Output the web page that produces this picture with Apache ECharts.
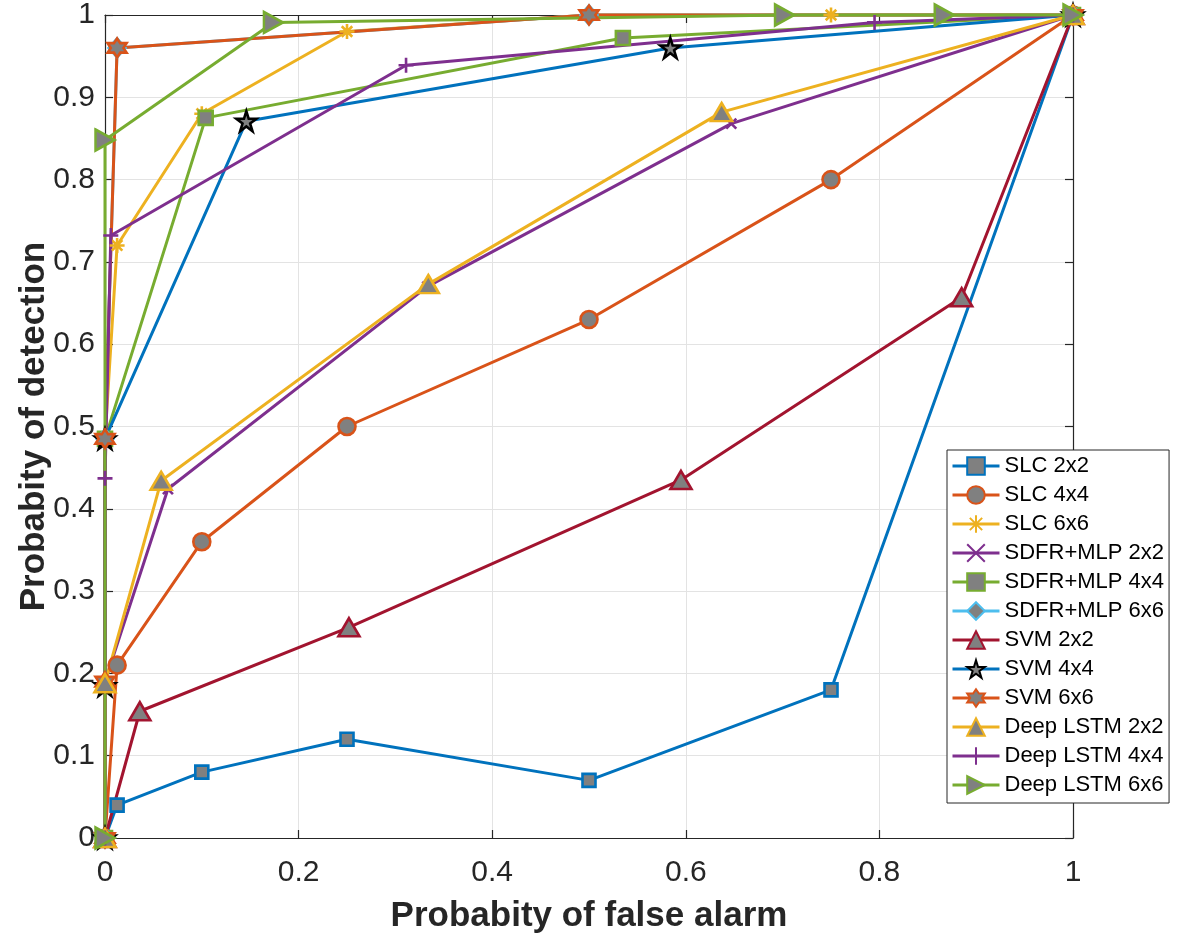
<!DOCTYPE html>
<html>
<head>
<meta charset="utf-8">
<script src="https://cdn.jsdelivr.net/npm/echarts@6/dist/echarts.min.js"></script>
<style>
  html, body { margin: 0; padding: 0; background: #ffffff; }
  #chart { width: 1180px; height: 937px; }
</style>
</head>
<body>
<div id="chart"></div>
<script>
// ---- tick labels ----
const xTickLabels = ['0', '0.2', '0.4', '0.6', '0.8', '1'];
const yTickLabels = ['0', '0.1', '0.2', '0.3', '0.4', '0.5', '0.6', '0.7', '0.8', '0.9', '1'];

// ---- series names (legend order) ----
const seriesNames = [
  'SLC 2x2', 'SLC 4x4', 'SLC 6x6',
  'SDFR+MLP 2x2', 'SDFR+MLP 4x4', 'SDFR+MLP 6x6',
  'SVM 2x2', 'SVM 4x4', 'SVM 6x6',
  'Deep LSTM 2x2', 'Deep LSTM 4x4', 'Deep LSTM 6x6'
];

// ---- ROC points: probability of false alarm / probability of detection ----
const slc2x2Pfa = [0, 0.0125, 0.1, 0.25, 0.5, 0.75, 1];
const slc2x2Pd  = [0, 0.04, 0.08, 0.12, 0.07, 0.18, 1];

const slc4x4Pfa = [0, 0.0125, 0.1, 0.25, 0.5, 0.75, 1];
const slc4x4Pd  = [0, 0.21, 0.36, 0.5, 0.63, 0.8, 1];

const slc6x6Pfa = [0, 0, 0.0125, 0.1, 0.25, 0.5, 0.75, 1];
const slc6x6Pd  = [0, 0.485, 0.72, 0.88, 0.98, 1, 1, 1];

const sdfr2x2Pfa = [0, 0, 0.065, 0.333, 0.647, 1];
const sdfr2x2Pd  = [0, 0.19, 0.424, 0.67, 0.868, 1];

const sdfr4x4Pfa = [0, 0, 0.104, 0.535, 1];
const sdfr4x4Pd  = [0, 0.485, 0.875, 0.972, 1];

const sdfr6x6Pfa = [0, 0, 0.0125, 0.5, 1];
const sdfr6x6Pd  = [0, 0.485, 0.96, 1, 1];

const svm2x2Pfa = [0, 0.036, 0.252, 0.595, 0.885, 1];
const svm2x2Pd  = [0, 0.154, 0.256, 0.435, 0.657, 1];

const svm4x4Pfa = [0, 0, 0, 0.146, 0.584, 1];
const svm4x4Pd  = [0, 0.185, 0.485, 0.871, 0.96, 1];

const svm6x6Pfa = [0, 0, 0, 0.0125, 0.5, 1];
const svm6x6Pd  = [0, 0.19, 0.485, 0.96, 1, 1];

const lstm2x2Pfa = [0, 0, 0.058, 0.334, 0.637, 1];
const lstm2x2Pd  = [0, 0.188, 0.434, 0.673, 0.882, 1];

const lstm4x4Pfa = [0, 0, 0.006, 0.311, 0.795, 1];
const lstm4x4Pd  = [0, 0.437, 0.732, 0.939, 0.991, 1];

const lstm6x6Pfa = [0, 0, 0.174, 0.702, 0.867, 1];
const lstm6x6Pd  = [0, 0.848, 0.991, 1, 1, 1];

const seriesPfa = [slc2x2Pfa, slc4x4Pfa, slc6x6Pfa, sdfr2x2Pfa, sdfr4x4Pfa, sdfr6x6Pfa,
                   svm2x2Pfa, svm4x4Pfa, svm6x6Pfa, lstm2x2Pfa, lstm4x4Pfa, lstm6x6Pfa];
const seriesPd  = [slc2x2Pd, slc4x4Pd, slc6x6Pd, sdfr2x2Pd, sdfr4x4Pd, sdfr6x6Pd,
                   svm2x2Pd, svm4x4Pd, svm6x6Pd, lstm2x2Pd, lstm4x4Pd, lstm6x6Pd];

// ---- marker shapes ----
function starPath(points, inner) {
  let d = '';
  for (let i = 0; i < points * 2; i++) {
    const r = i % 2 === 0 ? 1 : inner;
    const a = -Math.PI / 2 + i * Math.PI / points;
    d += (i === 0 ? 'M' : 'L') + (r * Math.cos(a)).toFixed(4) + ',' + (r * Math.sin(a)).toFixed(4);
  }
  return 'path://' + d + 'Z';
}
const SYM_ASTERISK = 'path://M0,-1L0,1M-1,0L1,0M-0.7,-0.7L0.7,0.7M-0.7,0.7L0.7,-0.7';
const SYM_CROSS = 'path://M-1,-1L1,1M-1,1L1,-1';
const SYM_PLUS = 'path://M0,-1L0,1M-1,0L1,0';
const SYM_RIGHT_TRI = 'path://M-1,-1L1,0L-1,1Z';
const SYM_PENTAGRAM = starPath(5, 0.382);
const SYM_HEXAGRAM = starPath(6, 0.577);

const GRAY = '#808080';
// line colour, marker, marker size, marker edge colour, marker face colour
const styles = [
  { color: '#0072BD', symbol: 'rect',        size: 13,       edge: '#0072BD', face: GRAY },
  { color: '#D95319', symbol: 'circle',      size: 17,       edge: '#D95319', face: GRAY },
  { color: '#EDB120', symbol: SYM_ASTERISK,  size: 15,       edge: '#EDB120', face: 'none' },
  { color: '#7E2F8E', symbol: SYM_CROSS,     size: 10,       edge: '#7E2F8E', face: 'none' },
  { color: '#77AC30', symbol: 'rect',        size: 14,       edge: '#77AC30', face: GRAY },
  { color: '#4DBEEE', symbol: 'diamond',     size: [17, 19], edge: '#4DBEEE', face: GRAY },
  { color: '#A2142F', symbol: 'triangle',    size: [21, 18], edge: '#A2142F', face: GRAY },
  { color: '#0072BD', symbol: SYM_PENTAGRAM, size: 20,       edge: '#000000', face: GRAY },
  { color: '#D95319', symbol: SYM_HEXAGRAM,  size: 19,       edge: '#D95319', face: GRAY },
  { color: '#EDB120', symbol: 'triangle',    size: [21, 18], edge: '#EDB120', face: GRAY },
  { color: '#7E2F8E', symbol: SYM_PLUS,      size: 15,       edge: '#7E2F8E', face: 'none' },
  { color: '#77AC30', symbol: SYM_RIGHT_TRI, size: [19, 21], edge: '#77AC30', face: GRAY }
];

const FONT = '"Liberation Sans", Arial, Helvetica, sans-serif';
const AXIS_COLOR = '#262626';

const series = seriesNames.map((name, i) => {
  const s = styles[i];
  return {
    name: name,
    type: 'line',
    xAxisIndex: 0,
    yAxisIndex: 0,
    data: seriesPfa[i].map((x, k) => [x, seriesPd[i][k]]),
    symbol: s.symbol,
    symbolSize: s.size,
    showAllSymbol: true,
    clip: false,
    animation: false,
    lineStyle: { color: s.color, width: 3 },
    itemStyle: {
      color: s.face === 'none' ? 'rgba(0,0,0,0)' : s.face,
      borderColor: s.edge,
      borderWidth: 2.6
    },
    emphasis: { disabled: true }
  };
});

function axisCommon(labels, interval) {
  return {
    type: 'value',
    min: 0,
    max: 1,
    interval: interval,
    axisLine: { show: true, onZero: false, lineStyle: { color: AXIS_COLOR, width: 1.2 } },
    axisTick: { show: true, inside: true, length: 8, lineStyle: { color: AXIS_COLOR, width: 1.2 } },
    splitLine: { show: false },
    axisLabel: {
      show: true,
      fontFamily: FONT,
      fontSize: 30,
      color: AXIS_COLOR,
      formatter: v => labels[Math.round(v / interval)]
    }
  };
}

const xMain = axisCommon(xTickLabels, 0.2);
xMain.position = 'bottom';
xMain.splitLine = { show: true, lineStyle: { color: '#e3e3e3', width: 1 } };
xMain.axisLabel.margin = 20;
xMain.name = 'Probabity of false alarm';
xMain.nameLocation = 'middle';
xMain.nameGap = 61;
xMain.nameMoveOverlap = false;
xMain.nameTextStyle = { fontFamily: FONT, fontSize: 35, fontWeight: 'bold', color: AXIS_COLOR };

const xTop = axisCommon(xTickLabels, 0.2);
xTop.position = 'top';
xTop.axisLabel.show = false;

const yMain = axisCommon(yTickLabels, 0.1);
yMain.position = 'left';
yMain.splitLine = { show: true, lineStyle: { color: '#e3e3e3', width: 1 } };
yMain.axisLabel.margin = 10;
yMain.name = 'Probabity of detection';
yMain.nameLocation = 'middle';
yMain.nameGap = 53;
yMain.nameMoveOverlap = false;
yMain.nameTextStyle = { fontFamily: FONT, fontSize: 35, fontWeight: 'bold', color: AXIS_COLOR };

const yRight = axisCommon(yTickLabels, 0.1);
yRight.position = 'right';
yRight.axisLabel.show = false;

const chart = echarts.init(document.getElementById('chart'), null, { renderer: 'canvas' });
chart.setOption({
  backgroundColor: '#ffffff',
  animation: false,
  grid: { left: 105, right: 107, top: 15, bottom: 99, containLabel: false, outerBoundsMode: 'none' },
  xAxis: [xMain, xTop],
  yAxis: [yMain, yRight],
  legend: {
    data: seriesNames,
    orient: 'vertical',
    left: 947,
    top: 450,
    padding: [5, 5, 7, 4],
    itemWidth: 47,
    itemHeight: 22,
    itemGap: 7,
    backgroundColor: '#ffffff',
    borderColor: AXIS_COLOR,
    borderWidth: 1,
    borderRadius: 0,
    selectedMode: false,
    lineStyle: { width: 3 },
    textStyle: { fontFamily: FONT, fontSize: 22, color: '#000000', lineHeight: 20 }
  },
  series: series
});
</script>
</body>
</html>
